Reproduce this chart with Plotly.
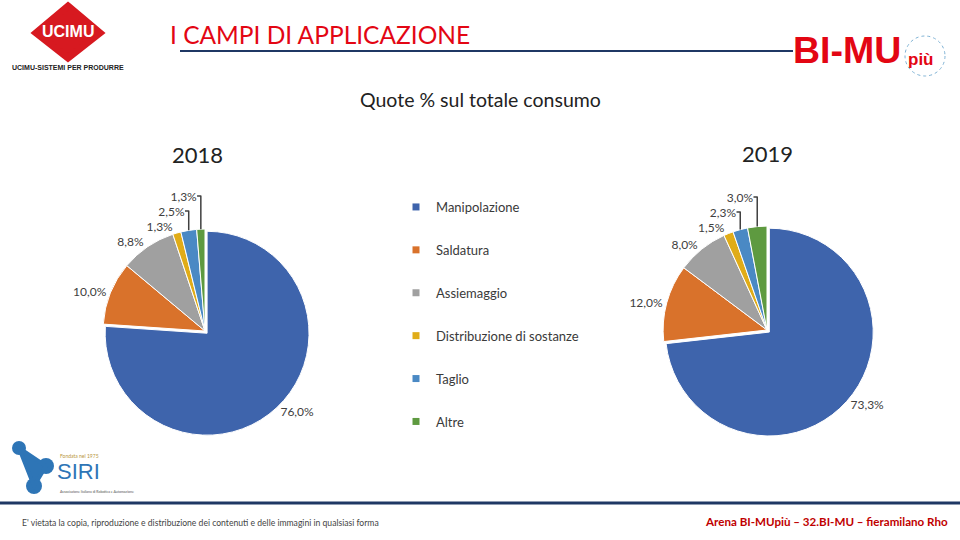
import plotly.graph_objects as go

categories = ["Manipolazione", "Saldatura", "Assiemaggio", "Distribuzione di sostanze", "Taglio", "Altre"]
values_2018 = [76.0, 10.0, 8.8, 1.3, 2.5, 1.3]
values_2019 = [73.3, 12.0, 8.0, 1.5, 2.3, 3.0]
colors = ["#3E64AC", "#D9722B", "#A0A0A0", "#E0AC18", "#4A89C4", "#5E9A40"]

FONT = "Lato"
W, H = 960, 540

fig = go.Figure()

def add_pie(vals, domx, domy):
    fig.add_trace(go.Pie(
        labels=categories, values=vals, sort=False, direction="clockwise", rotation=0,
        marker=dict(colors=colors, line=dict(color="white", width=1)),
        pull=[0.03, 0, 0, 0, 0, 0],
        textposition="outside", texttemplate="%{value:.1f}%",
        textfont=dict(family=FONT, size=12, color="#404040"),
        showlegend=False, hoverinfo="label+value",
        domain=dict(x=domx, y=domy),
    ))

add_pie(values_2018, [100 / W, 310 / W], [1 - 436 / H, 1 - 226 / H])
add_pie(values_2019, [660 / W, 874 / W], [1 - 440 / H, 1 - 220 / H])

# legend via dummy traces for spacing
for i, (c, col) in enumerate(zip(categories, colors)):
    fig.add_trace(go.Scatter(
        x=[None], y=[None], mode="markers", name=c,
        marker=dict(symbol="square", size=7, color=col),
        legendgroup=f"g{i}", showlegend=True,
    ))

fig.update_layout(
    width=W, height=H, margin=dict(l=0, r=0, t=0, b=0),
    paper_bgcolor="white", plot_bgcolor="white",
    separators=",.",
    xaxis=dict(visible=False), yaxis=dict(visible=False),
    legend=dict(x=396 / W, y=1 - 192 / H, xanchor="left", yanchor="top",
                font=dict(family=FONT, size=13, color="#3A3A3A"),
                tracegroupgap=23, itemwidth=30, bgcolor="rgba(0,0,0,0)"),
    font=dict(family=FONT),
)

ann = []
def txt(x, y, s, size, color="#000000", xanchor="center", **kw):
    ann.append(dict(x=x / W, y=1 - y / H, xref="paper", yref="paper", text=s, showarrow=False,
                    font=dict(family=kw.get("family", FONT), size=size, color=color),
                    xanchor=xanchor, yanchor="middle"))

txt(168, 35, "I CAMPI DI APPLICAZIONE", 24.5, "#E30613", xanchor="left")
txt(480, 99, "Quote % sul totale consumo", 19.5, "#222222")
txt(197, 155, "2018", 22, "#222222")
txt(767, 153, "2019", 22, "#222222")
# UCIMU logo
txt(68, 32, "<b>UCIMU</b>", 16, "white", family="Liberation Sans")
txt(68, 67, "<b>UCIMU-SISTEMI PER PRODURRE</b>", 7, "#222222", family="Liberation Sans")
# BI-MU piu logo
txt(791, 50, "<b>BI-MU</b>", 37.5, "#E30613", xanchor="left", family="Liberation Sans")
txt(906, 59, "<b>più</b>", 17, "#E30613", xanchor="left", family="Liberation Sans")
# SIRI logo
txt(55, 471, "SIRI", 22, "#2E75B6", xanchor="left", family="Liberation Sans")
txt(58, 456, "Fondata nel 1975", 5, "#B8963C", xanchor="left")
txt(58, 492, "Associazione Italiana di Robotica e Automazione", 3.5, "#555555", xanchor="left")
# footer
txt(20, 523, "E' vietata la copia, riproduzione e distribuzione dei contenuti e delle immagini in qualsiasi forma",
    8.6, "#444444", xanchor="left")
txt(950, 521, "<b>Arena BI-MUpiù – 32.BI-MU – fieramilano Rho</b>", 11.6, "#C00000", xanchor="right")
fig.update_layout(annotations=ann)

shapes = [
    dict(type="line", xref="paper", yref="paper", x0=180 / W, x1=793 / W, y0=1 - 51 / H, y1=1 - 51 / H,
         line=dict(color="#1F3864", width=2)),
    dict(type="line", xref="paper", yref="paper", x0=0, x1=1, y0=1 - 503 / H, y1=1 - 503 / H,
         line=dict(color="#1F3864", width=3)),
    # UCIMU diamond
    dict(type="path", xref="paper", yref="paper",
         path=f"M {68/W},{1-6/H} L {100/W},{1-33/H} L {68/W},{1-58/H} L {36/W},{1-33/H} Z",
         fillcolor="#D71920", line=dict(color="#D71920", width=7)),
    # BI-MU globe
    dict(type="circle", xref="paper", yref="paper", x0=905 / W, x1=945 / W, y0=1 - 76 / H, y1=1 - 36 / H,
         line=dict(color="#7FB3D5", width=1, dash="dot")),
    # SIRI shapes
    dict(type="circle", xref="paper", yref="paper", x0=12 / W, x1=26 / W, y0=1 - 455 / H, y1=1 - 441 / H,
         fillcolor="#2E75B6", line=dict(width=0)),
    dict(type="circle", xref="paper", yref="paper", x0=38 / W, x1=54 / W, y0=1 - 474 / H, y1=1 - 458 / H,
         fillcolor="#2E75B6", line=dict(width=0)),
    dict(type="circle", xref="paper", yref="paper", x0=26 / W, x1=42 / W, y0=1 - 494 / H, y1=1 - 478 / H,
         fillcolor="#2E75B6", line=dict(width=0)),
    dict(type="path", xref="paper", yref="paper",
         path=f"M {19/W},{1-448/H} L {46/W},{1-466/H} L {34/W},{1-486/H} Z",
         fillcolor="#2E75B6", line=dict(color="#2E75B6", width=4)),
]
fig.update_layout(shapes=shapes)

fig.write_html("out.html", config={"displayModeBar": False},
               post_script="document.body.style.margin='0';document.body.style.overflow='hidden';")
